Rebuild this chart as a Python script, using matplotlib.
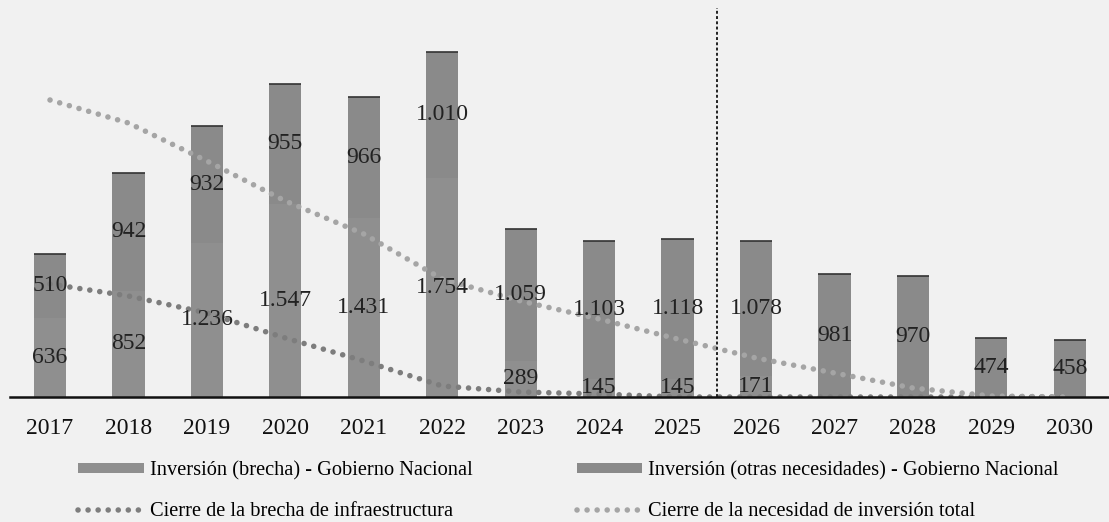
import matplotlib.pyplot as plt
import numpy as np

plt.rcParams['font.family'] = ['Liberation Serif', 'DejaVu Serif']

years = ['2017', '2018', '2019', '2020', '2021', '2022', '2023',
         '2024', '2025', '2026', '2027', '2028', '2029', '2030']
brecha = [636, 852, 1236, 1547, 1431, 1754, 289, 145, 145, 171, 0, 0, 0, 0]
otras = [510, 942, 932, 955, 966, 1010, 1059, 1103, 1118, 1078, 981, 970, 474, 458]
cierre_brecha = [904, 808, 672, 472, 288, 88, 40, 24, 0, 0, 0, 0, 0, 0]
cierre_total = [2376, 2192, 1888, 1568, 1304, 944, 768, 624, 464, 312, 192, 72, 8, 0]


def fmt(v):
    return '{:,}'.format(v).replace(',', '.')


W, H = 1109, 522
fig = plt.figure(figsize=(W / 100, H / 100), dpi=100, facecolor='#f1f1f1')
base_y = 397
ax = fig.add_axes([10 / W, (H - base_y) / H, 1 - 10 / W, base_y / H])
ax.set_facecolor('none')

x = np.arange(len(years))
bw = 0.41
brecha = np.array(brecha)
otras = np.array(otras)
total = brecha + otras

b1 = ax.bar(x, brecha, bw, color='#8f8f8f', linewidth=0,
            label='Inversión (brecha) - Gobierno Nacional')
b2 = ax.bar(x, otras, bw, bottom=brecha, color='#8a8a8a', linewidth=0,
            label='Inversión (otras necesidades) - Gobierno Nacional')
# dark top edge of each bar
ax.hlines(total, x - bw / 2, x + bw / 2, color='#333333', lw=1.2)

dots = (0, (0.01, 1.8))
l1, = ax.plot(x, cierre_brecha, color='#7d7d7d', lw=4.0,
              linestyle=dots, dash_capstyle='round',
              label='Cierre de la brecha de infraestructura')
l2, = ax.plot(x, cierre_total, color='#a5a5a5', lw=4.0,
              linestyle=dots, dash_capstyle='round',
              label='Cierre de la necesidad de inversión total')

for i in range(len(years)):
    if brecha[i] > 0:
        ax.text(x[i], brecha[i] / 2, fmt(brecha[i]), ha='center', va='center',
                fontsize=17, color='#222222')
    ax.text(x[i], brecha[i] + otras[i] / 2, fmt(otras[i]), ha='center',
            va='center', fontsize=17, color='#222222')

ax.vlines(8.5, 0, 3110, color='#222222', lw=1.4, linestyle=(0, (1.5, 1.2)))

ax.set_xlim(-0.51, 13.5)
ax.set_ylim(0, 3176)
for s in ['top', 'right', 'left']:
    ax.spines[s].set_visible(False)
ax.spines['bottom'].set_linewidth(1.8)
ax.spines['bottom'].set_color('#111111')
ax.set_yticks([])
ax.set_xticks(x)
ax.set_xticklabels(years, fontsize=17, color='#111111')
ax.tick_params(axis='x', length=0, pad=15)

fig.legend(handles=[b1, l1, b2, l2], ncol=2, frameon=False,
           loc='upper left', bbox_to_anchor=(60 / W, 1 - 443 / H),
           fontsize=14.7, handlelength=3.2, handleheight=0.4,
           handletextpad=0.3, columnspacing=5.1, labelspacing=1.05)

plt.savefig('out.png', dpi=100, facecolor=fig.get_facecolor())
